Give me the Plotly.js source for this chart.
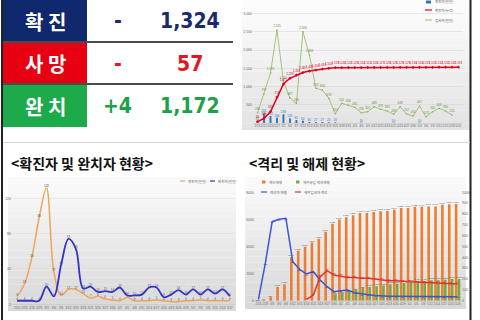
<!DOCTYPE html>
<html><head><meta charset="utf-8">
<script src="https://cdn.plot.ly/plotly-3.0.1.min.js"></script>
<style>html,body{margin:0;padding:0;background:#fff}#chart{width:480px;height:320px}</style>
</head><body><div id="chart"></div>
<script>
// ---------- summary table ----------
const summaryLabels = ["확 진", "사 망", "완 치"];
const summaryChange = ["-", "-", "+4"];
const summaryTotal = [1324, 57, 1172];

// ---------- chart A (top right) ----------
const datesA = ["2/18","2/21","2/24","2/27","3/1","3/4","3/7","3/10","3/13","3/16","3/19","3/22","3/25","3/28","3/31","4/3","4/6","4/9","4/12","4/15","4/18","4/21","4/24","4/27","4/30","5/3","5/6","5/9","5/12","5/15","5/18","5/21"];
const dailyConfirmedA = [55,266,192,146,238,128,82,64,30,27,27,20,20,null,null,null,10,null,null,null,null,10,null,null,null,10,null,null,null,null,null,null];
const cumulativeA = [36,129,310,714,1071,1228,1318,1387,1428,1456,1483,1502,1519,1520,1522,1523,1524,1525,1526,1527,1528,1528,1529,1529,1530,1530,1531,1531,1532,1532,1532,1533];
const testsA = [280,797,1373,2555,1140,687,536,2508,1868,953,906,678,255,541,494,431,283,310,448,376,330,239,448,247,192,467,173,310,404,330,220,null];

// ---------- chart B (bottom left) ----------
const datesB = ["2/20","2/23","2/26","2/29","3/3","3/6","3/9","3/12","3/15","3/18","3/21","3/24","3/27","3/30","4/2","4/5","4/8","4/11","4/14","4/17","4/20","4/23","4/26","4/29","5/2","5/5","5/8","5/11","5/14","5/17"];
const confirmedB = [9,23,53,98,132,37,10,17,17,12,7,9,6,5,4,8,4,4,4,5,4,3,3,4,4,5,4,4,4,4];
const recoveredB = [4,4,4,4,20,9,45,74,63,18,20,14,15,14,19,10,10,11,19,19,8,11,16,11,17,11,17,12,17,9];

// ---------- chart C (bottom right) ----------
const datesC = ["2/26","2/29","3/3","3/6","3/9","3/12","3/15","3/18","3/21","3/24","3/27","3/30","4/2","4/5","4/8","4/11","4/14","4/17","4/20","4/23","4/26","4/29","5/2","5/5","5/8","5/11","5/14","5/17","5/20","5/23"];
const releasedC = [15,70,250,1018,1212,3200,3685,3975,4290,4580,5090,5672,5987,6157,6302,6472,6480,6545,6593,6620,6714,6836,6850,6933,6940,6957,6960,7078,7127,7130];
const overseasReleasedC = [null,null,null,null,null,null,null,null,null,null,null,485,580,655,824,970,1018,1066,1115,1212,1260,1309,1382,1454,1454,1503,1503,1551,1600,1600];
const isolatedC = [12,345,729,751,760,360,289,246,268,191,129,83,92,98,74,62,55,49,43,42,41,40,40,39,39,38,38,37,37,37];
const overseasIsolatedC = [null,null,null,null,null,null,null,12,52,221,277,237,228,215,215,206,206,197,191,185,185,178,175,172,169,166,166,160,157,154];

const W = 480, H = 320;
const px = x => x / W, py = y => 1 - y / H;
const KR = 'Noto Sans CJK KR, sans-serif';
const SANS = 'Liberation Sans, Arial, sans-serif';
const NARROW = 'Liberation Sans Narrow, DejaVu Sans Condensed, Arial Narrow, sans-serif';

const shapes = [];
const annotations = [];

function bands(x0, x1, y0, y1, top, bot, n) {
  for (let i = 0; i < n; i++) {
    const t = (i + 0.5) / n;
    const c = top.map((v, k) => Math.round(v + (bot[k] - v) * t));
    shapes.push({type:'rect', xref:'paper', yref:'paper', layer:'below',
      x0:px(x0), x1:px(x1), y0:py(y0 + (y1 - y0) * i / n), y1:py(y0 + (y1 - y0) * (i + 1) / n),
      line:{width:0}, fillcolor:`rgb(${c[0]},${c[1]},${c[2]})`});
  }
}
function rect(x0, y0, x1, y1, color) {
  shapes.push({type:'rect', xref:'paper', yref:'paper', layer:'below', x0:px(x0), x1:px(x1), y0:py(y1), y1:py(y0), line:{width:0}, fillcolor:color});
}
function line(x0, y0, x1, y1, color, w) {
  shapes.push({type:'line', xref:'paper', yref:'paper', x0:px(x0), x1:px(x1), y0:py(y0), y1:py(y1), line:{color:color, width:w}});
}
function text(x, y, t, opts) {
  annotations.push(Object.assign({xref:'paper', yref:'paper', x:px(x), y:py(y), text:t, showarrow:false,
    xanchor:'center', yanchor:'middle', font:{family:SANS, size:4, color:'#595959'}}, opts || {}));
}

// backgrounds
bands(242, 470, 0, 130, [253,253,253], [226,226,226], 20);
bands(8, 236, 177, 311, [251,251,251], [215,215,215], 20);
bands(245, 466, 177, 309, [251,251,251], [215,215,215], 20);

// table
const cellColors = ['#10296e', '#e60012', '#1daa4b'];
const numColors = ['#1b2a6b', '#e8141c', '#1ea04a'];
const rowTop = [0, 43, 85], rowBot = [41, 83, 127], rowMid = [21, 64, 106.5];
for (let i = 0; i < 3; i++) {
  rect(3, rowTop[i], 87, rowBot[i], cellColors[i]);
  text(45.5, rowMid[i], '<b>' + summaryLabels[i] + '</b>', {font:{family:KR, size:20, color:'#ffffff'}});
  text(117.5, rowMid[i], '<b>' + summaryChange[i] + '</b>', {font:{family:NARROW, size:21, color:numColors[i]}});
  text(190, rowMid[i], '<b>' + summaryTotal[i].toLocaleString('en-US') + '</b>', {font:{family:NARROW, size:21, color:numColors[i]}});
}
line(3, 42, 233, 42, '#111', 1.5);
line(3, 84, 233, 84, '#111', 1.5);

// frame lines
line(2, 0, 2, 320, '#222', 2);
line(470.5, 0, 470.5, 320, '#222', 2);
line(3, 142.5, 470, 142.5, '#d4d4d4', 1);

// titles
text(9, 163, '<b>&lt;확진자 및 완치자 현황&gt;</b>', {xanchor:'left', font:{family:KR, size:14, color:'#111'}});
text(247, 163, '<b>&lt;격리 및 해제 현황&gt;</b>', {xanchor:'left', font:{family:KR, size:14, color:'#111'}});

// legend A
rect(426, 0.5, 431, 3.5, '#2e75b6');
text(433, 2, '확진자(일일)', {xanchor:'left', font:{family:KR, size:3.5, color:'#595959'}});
line(425, 10, 432, 10, '#e3001b', 1.2);
text(433, 10, '확진자(누적)', {xanchor:'left', font:{family:KR, size:3.5, color:'#595959'}});
line(425, 20, 432, 20, '#a5c27a', 1);
text(433, 20, '검사자(일일)', {xanchor:'left', font:{family:KR, size:3.5, color:'#595959'}});

// legend B
line(180, 181, 185, 181, '#f0a35e', 1.2);
text(186, 181, '확진자(일일)', {xanchor:'left', font:{family:KR, size:3.5, color:'#595959'}});
line(210, 181, 215, 181, '#3333c4', 1.2);
text(216, 181, '완치자(일일)', {xanchor:'left', font:{family:KR, size:3.5, color:'#595959'}});

// legend C
rect(262, 180.5, 265.5, 183.5, '#ed7d31');
text(267, 182, '격리해제', {xanchor:'left', font:{family:KR, size:3.5, color:'#595959'}});
rect(296, 180.5, 299.5, 183.5, '#70ad47');
text(301, 182, '해외유입 격리해제', {xanchor:'left', font:{family:KR, size:3.5, color:'#595959'}});
line(261, 192, 267, 192, '#3a56d4', 1.2);
text(268, 192, '격리자 현황', {xanchor:'left', font:{family:KR, size:3.5, color:'#595959'}});
line(295, 192, 301, 192, '#e8312f', 1.2);
text(302, 192, '해외입국자 격리', {xanchor:'left', font:{family:KR, size:3.5, color:'#595959'}});

const tickF = {family:SANS, size:3, color:'#666'};
const tickFY = {family:SANS, size:3.5, color:'#666'};
const catAxis = (dom, anchor, n) => ({domain:dom, anchor:anchor, type:'category', range:[-0.7, n - 0.3],
  tickmode:'linear', tick0:0, dtick:1, tickangle:0, tickfont:tickF, showgrid:false, showline:true,
  linecolor:'#bfbfbf', linewidth:0.6, ticks:'', zeroline:false, fixedrange:true});

const traces = [
  {type:'bar', x:datesA, y:dailyConfirmedA, xaxis:'x', yaxis:'y', width:0.3, offset:-0.15,
   marker:{color:'#2e75b6'}, texttemplate:'%{y}', textposition:'outside', constraintext:'none',
   textfont:{family:SANS, size:3, color:'#2e75b6'}, cliponaxis:false, hoverinfo:'skip'},
  {type:'scatter', mode:'lines+markers+text', x:datesA, y:testsA, xaxis:'x', yaxis:'y',
   line:{color:'#a5c27a', width:1}, marker:{size:1.6, color:'#8db060'},
   texttemplate:'%{y:,}', textposition:'top center', textfont:{family:SANS, size:3, color:'#6a8f3a'}, cliponaxis:false},
  {type:'scatter', mode:'lines+markers+text', x:datesA, y:cumulativeA, xaxis:'x', yaxis:'y',
   line:{color:'#e3001b', width:1.5}, marker:{size:2.5, color:'#e3001b', symbol:'diamond'},
   texttemplate:'%{y:,}', textposition:'top center', textfont:{family:SANS, size:3, color:'#e3001b'}, cliponaxis:false},

  {type:'scatter', mode:'lines+text', x:datesB, y:confirmedB, xaxis:'x2', yaxis:'y2',
   line:{color:'#f0a35e', width:1.5, shape:'spline'},
   texttemplate:'%{y}', textposition:'top center', textfont:{family:SANS, size:3, color:'#555'}, cliponaxis:false},
  {type:'scatter', mode:'lines+text', x:datesB, y:recoveredB, xaxis:'x2', yaxis:'y2',
   line:{color:'#3333c4', width:1.8, shape:'spline'},
   texttemplate:'%{y}', textposition:'top center', textfont:{family:SANS, size:3, color:'#555'}, cliponaxis:false},

  {type:'bar', x:datesC, y:releasedC, xaxis:'x3', yaxis:'y3', width:0.38, offset:-0.4,
   marker:{color:'#ed7d31'}, texttemplate:'%{y:,}', textposition:'outside', constraintext:'none',
   textfont:{family:SANS, size:2.2, color:'#444'}, cliponaxis:false},
  {type:'bar', x:datesC, y:overseasReleasedC, xaxis:'x3', yaxis:'y3', width:0.38, offset:0.02,
   marker:{color:'#70ad47'}, texttemplate:'%{y:,}', textposition:'outside', constraintext:'none',
   textfont:{family:SANS, size:2.2, color:'#444'}, cliponaxis:false},
  {type:'scatter', mode:'lines+text', x:datesC, y:isolatedC, xaxis:'x3', yaxis:'y4',
   line:{color:'#3a56d4', width:1.5},
   texttemplate:'%{y}', textposition:'bottom center', textfont:{family:SANS, size:2.2, color:'#2a3a9a'}, cliponaxis:false},
  {type:'scatter', mode:'lines+text', x:datesC, y:overseasIsolatedC, xaxis:'x3', yaxis:'y4',
   line:{color:'#e8312f', width:1.5},
   texttemplate:'%{y}', textposition:'top center', textfont:{family:SANS, size:2.2, color:'#c02020'}, cliponaxis:false}
];

const layout = {
  width:W, height:H, margin:{l:0, r:0, t:0, b:0}, paper_bgcolor:'#ffffff', plot_bgcolor:'rgba(0,0,0,0)',
  showlegend:false, font:{family:SANS, size:4, color:'#595959'},
  xaxis: catAxis([px(253), px(463)], 'y', datesA.length),
  yaxis: {domain:[py(123), py(8)], anchor:'x', range:[0.5, 3159], dtick:500, tick0:0, tickformat:',d', tickfont:tickFY,
          showgrid:true, gridcolor:'#d4d4d4', gridwidth:0.5, zeroline:false, ticks:''},
  xaxis2: catAxis([px(12), px(235)], 'y2', datesB.length),
  yaxis2: {domain:[py(304.3), py(180.7)], anchor:'x2', range:[0, 140], dtick:40, tickfont:tickFY,
          showgrid:true, gridcolor:'#dedede', gridwidth:0.5, zeroline:false, ticks:''},
  xaxis3: Object.assign(catAxis([px(255), px(461)], 'y3', datesC.length), {range:[-0.5, datesC.length - 0.5]}),
  yaxis3: {domain:[py(300.7), py(192.3)], anchor:'x3', range:[0, 8000], dtick:2000, tickformat:'d', tickfont:tickFY,
          showgrid:false, zeroline:false, ticks:''},
  yaxis4: {overlaying:'y3', side:'right', anchor:'x3', range:[0, 1000], dtick:100, tickformat:'d', tickfont:tickFY,
          showgrid:false, zeroline:false, ticks:''},
  shapes: shapes,
  annotations: annotations
};

Plotly.newPlot('chart', traces, layout, {staticPlot:true, displayModeBar:false});
</script></body></html>
